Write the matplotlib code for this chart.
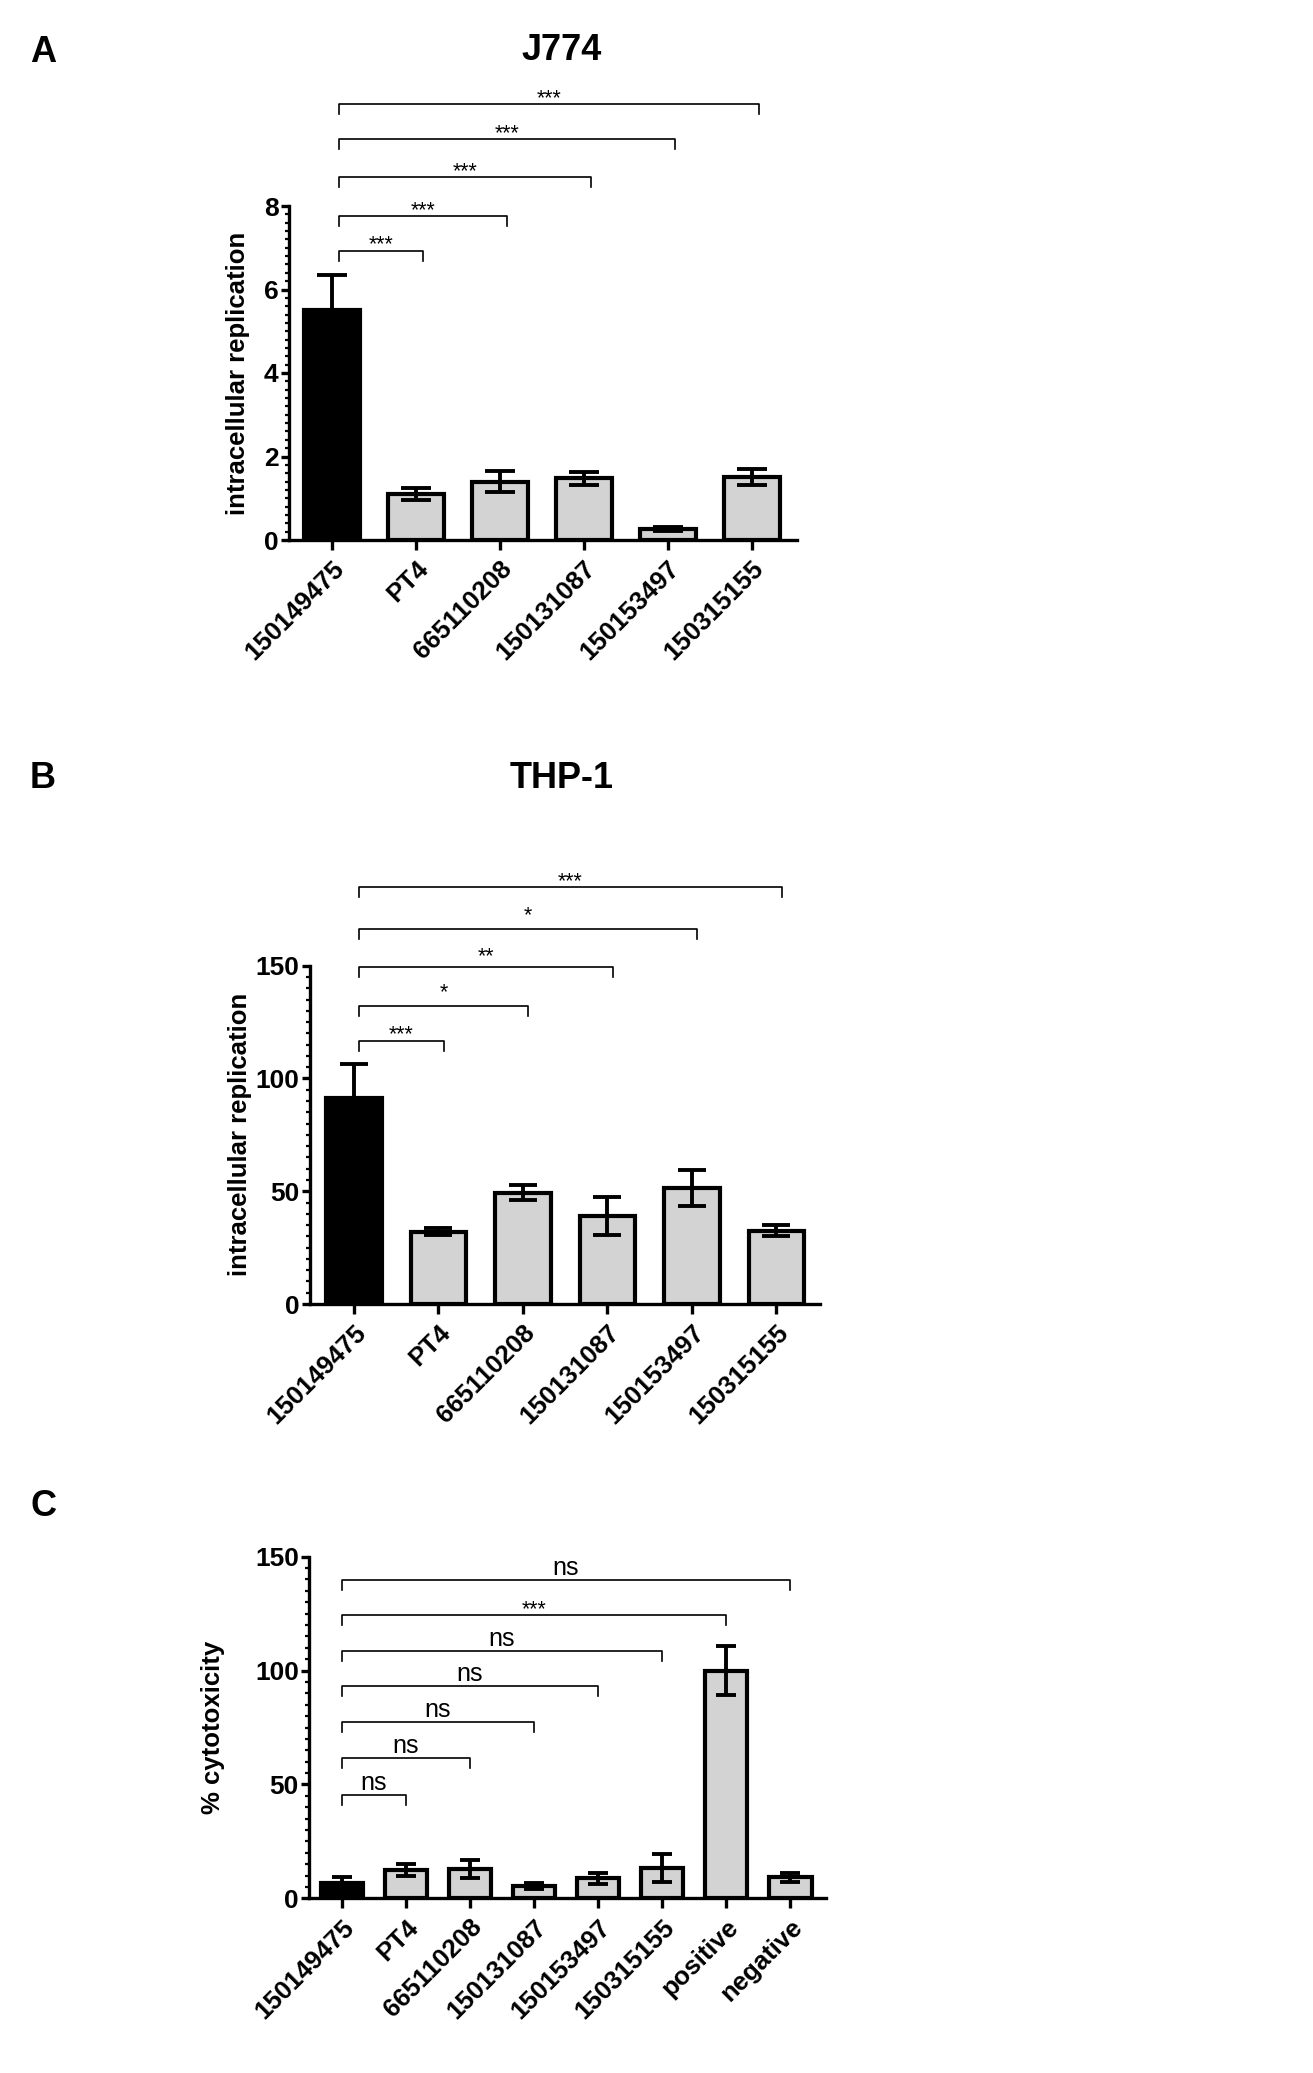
import matplotlib
matplotlib.use('Agg')
import matplotlib.pyplot as plt
import matplotlib.transforms as mtransforms
from matplotlib.ticker import MultipleLocator

plt.rcParams['font.family'] = ['Liberation Sans', 'DejaVu Sans']

# ---------------- data ----------------
strains = ['150149475', 'PT4', '665110208', '150131087', '150153497', '150315155']

j774_mean = [5.52, 1.10, 1.40, 1.48, 0.26, 1.50]
j774_sem = [0.82, 0.15, 0.26, 0.16, 0.04, 0.19]
j774_sig = ['***', '***', '***', '***', '***']
j774_sig_y = [6.93, 7.76, 8.69, 9.60, 10.45]

thp1_mean = [91.5, 32.1, 49.4, 39.0, 51.4, 32.5]
thp1_sem = [14.8, 1.5, 3.2, 8.6, 8.0, 2.4]
thp1_sig = ['***', '*', '**', '*', '***']
thp1_sig_y = [116.8, 132.2, 149.3, 166.3, 184.7]

cyto_groups = ['150149475', 'PT4', '665110208', '150131087', '150153497',
               '150315155', 'positive', 'negative']
cyto_mean = [6.8, 12.3, 12.9, 5.3, 8.8, 13.4, 100.0, 9.3]
cyto_sem = [2.4, 2.6, 4.0, 1.2, 2.5, 6.2, 10.7, 2.0]
cyto_sig = ['ns', 'ns', 'ns', 'ns', 'ns', '***', 'ns']
cyto_sig_y = [45.3, 61.7, 77.3, 93.4, 108.5, 124.4, 139.7]

# ---------------- figure ----------------
W, H = 1313, 2073
fig = plt.figure(figsize=(W / 100, H / 100), dpi=100)
fig.patch.set_facecolor('white')

GRAY = '#d3d3d3'
TEXT_OFF = {'***': 0, '**': 5, '*': 8, 'ns': 5}  # px above bracket (baseline)


def px_axes(l, r, t, b):
    return fig.add_axes([l / W, 1 - b / H, (r - l) / W, (b - t) / H])


def panel(ax, labels, means, sems, sig, sig_y, ymax, major, minor, xlim,
          capsize, drop, xoff, ylabel, label_x, width):
    n = len(labels)
    x = list(range(n))
    colors = ['black'] + [GRAY] * (n - 1)
    ax.bar(x, means, width=width, color=colors, edgecolor='black',
           linewidth=3.0, zorder=2)
    ax.errorbar(x, means, yerr=sems, fmt='none', ecolor='black',
                elinewidth=2.8, capsize=capsize, capthick=2.8, zorder=3)
    ax.set_xlim(*xlim)
    ax.set_ylim(0, ymax)
    for s in ['top', 'right']:
        ax.spines[s].set_visible(False)
    for s in ['left', 'bottom']:
        ax.spines[s].set_linewidth(2.4)
    ax.yaxis.set_major_locator(MultipleLocator(major))
    ax.yaxis.set_minor_locator(MultipleLocator(minor))
    ax.tick_params(axis='y', which='major', length=5.5, width=2.4,
                   labelsize=19, pad=2)
    ax.tick_params(axis='y', which='minor', length=3, width=1.6)
    ax.tick_params(axis='x', which='major', length=7, width=2.4, pad=5)
    ax.set_xticks(x)
    ax.set_xticklabels(labels, rotation=45, ha='right', va='top',
                       rotation_mode='anchor', fontsize=18.5,
                       fontweight='bold')
    for t in ax.get_yticklabels():
        t.set_fontweight('bold')
    ax.set_ylabel(ylabel, fontsize=18.5, fontweight='bold')
    ax.yaxis.set_label_coords(label_x, 0.5)

    for i, (lab, y) in enumerate(zip(sig, sig_y)):
        j = i + 1
        x0, x1 = 0 + xoff, j + xoff
        ax.plot([x0, x0, x1, x1], [y - drop, y, y, y - drop],
                color='black', lw=1.2, clip_on=False, zorder=4)
        off = mtransforms.ScaledTranslation(0, TEXT_OFF[lab] / 100,
                                            fig.dpi_scale_trans)
        fs = 18 if lab == 'ns' else 15.5
        ax.text((x0 + x1) / 2, y, lab, ha='center', va='baseline',
                fontsize=fs, transform=ax.transData + off, clip_on=False)


# Panel A
axA = px_axes(289, 797, 206, 540)
panel(axA, strains, j774_mean, j774_sem, j774_sig, j774_sig_y,
      8, 2, 0.2, (-0.508, 5.54), 10.5, 0.24, 0.083,
      'intracellular replication', -0.077, 0.665)

# Panel B
axB = px_axes(310, 820, 965.7, 1304)
panel(axB, strains, thp1_mean, thp1_sem, thp1_sig, thp1_sig_y,
      150, 50, 5, (-0.52, 5.515), 10, 4.4, 0.06,
      'intracellular replication', -0.114, 0.66)

# Panel C
axC = px_axes(309.3, 826, 1556.7, 1898.3)
panel(axC, cyto_groups, cyto_mean, cyto_sem, cyto_sig, cyto_sig_y,
      150, 50, 5, (-0.505, 7.555), 7.5, 4.4, 0.0,
      '% cytotoxicity', -0.163, 0.66)

# Panel letters and titles
for letter, y in [('A', 53), ('B', 779), ('C', 1506)]:
    fig.text(43 / W, 1 - y / H, letter, ha='center', va='center',
             fontsize=26, fontweight='bold')
fig.text(562 / W, 1 - 51 / H, 'J774', ha='center', va='center',
         fontsize=26, fontweight='bold')
fig.text(562 / W, 1 - 779 / H, 'THP-1', ha='center', va='center',
         fontsize=26, fontweight='bold')

fig.savefig('out.png', dpi=100, facecolor='white')
